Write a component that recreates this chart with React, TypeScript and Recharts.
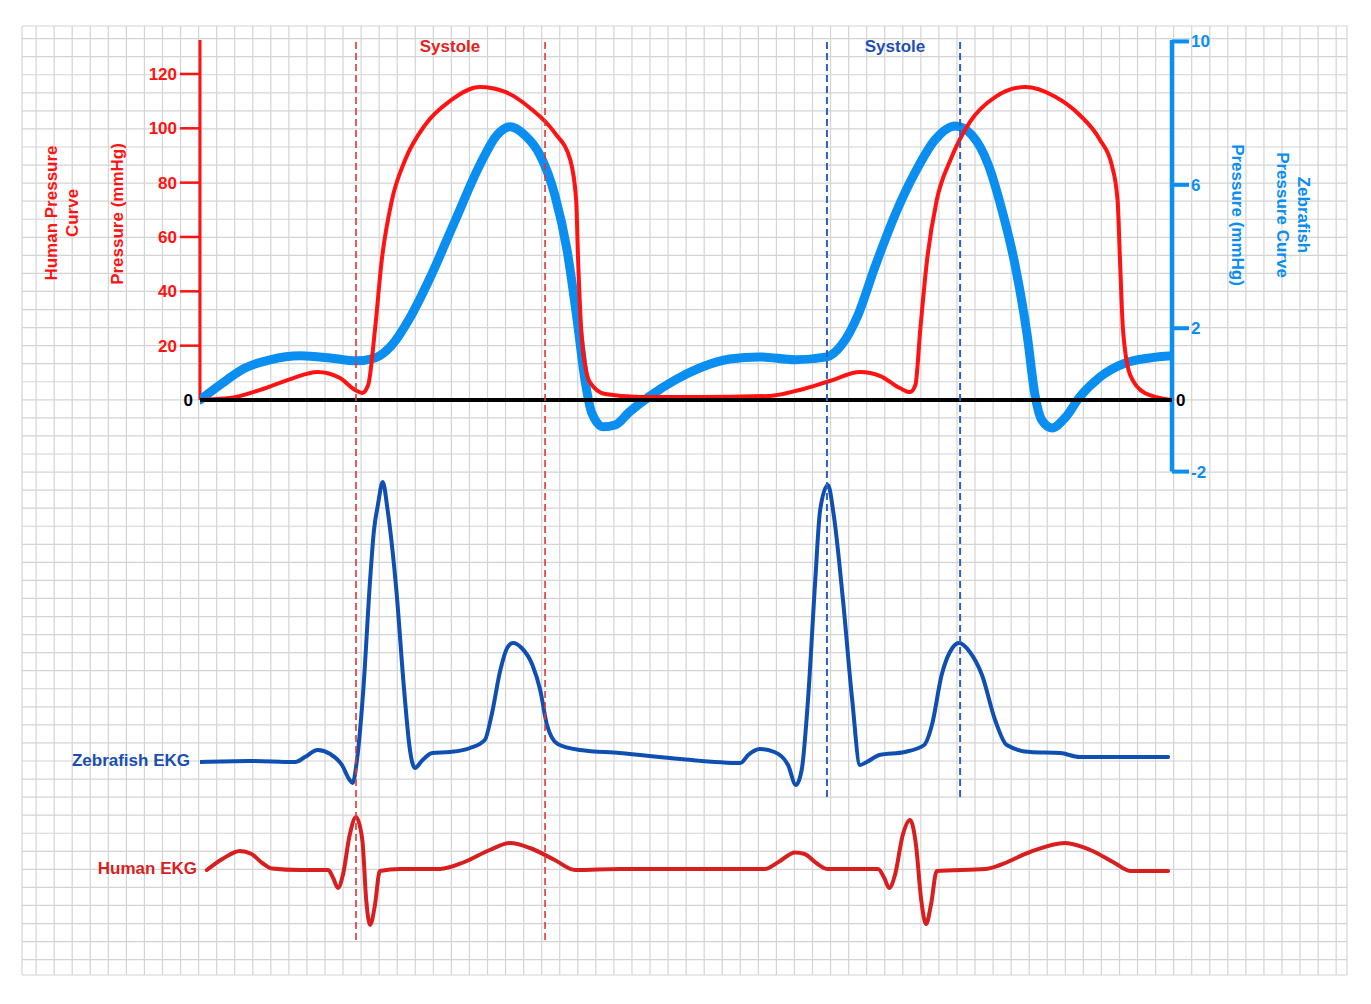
import React from "react";
import {
  ComposedChart,
  Line,
  XAxis,
  YAxis,
  CartesianGrid,
  ReferenceLine,
} from "recharts";

const W = 1371;
const H = 1004;
const FONT = '"Liberation Sans", Arial, sans-serif';

const RED = "#ff1212";
const HUMAN_EKG_RED = "#d81f1f";
const AZURE = "#0a8ef0";
const NAVY = "#0e4fb1";

// time runs 0..100 across the plot (two heart beats)
const humanPressureT = [
  0, 3.1, 6.2, 9.3, 12.1, 14.4, 15.95, 16.7, 17.3, 18.0, 18.7, 19.75, 21.1, 23.15,
  25.7, 28.8, 31.4, 33.95, 36.5, 38.1, 38.7, 38.9, 39.3, 40.1, 41.7, 45.3, 51.4,
  58.6, 61.7, 64.8, 67.9, 70.0, 72.0, 73.05, 73.6, 74.1, 74.8, 75.8, 77.2, 79.2,
  81.8, 84.9, 87.9, 90.5, 92.6, 93.8, 94.4, 94.65, 94.96, 95.7, 97.2, 100,
];
const humanPressureV = [
  0, 0.7, 3.7, 7.7, 10.3, 8.1, 3.7, 2.6, 5.5, 25.8, 51.5, 73.6, 88.3, 101.2,
  110, 115.2, 113.4, 107.5, 98.3, 88.3, 73.6, 51.5, 22, 6.6, 2.2, 1.1, 1.1,
  1.5, 3.7, 7.0, 10.3, 8.8, 4.4, 2.9, 5.5, 25.8, 51.5, 73.6, 88.3, 102.3,
  111.5, 115.2, 111.8, 104.9, 95.7, 86.5, 73.6, 51.5, 25.8, 9.2, 2.6, 0,
];

const zebrafishPressureT = [
  0, 2.06, 4.63, 7.2, 10.3, 13.4, 16.05, 18.0, 19.75, 21.6, 23.66, 26.2, 28.8,
  30.56, 31.9, 33.4, 34.98, 36.5, 37.76, 38.8, 39.6, 40.3, 41.5, 42.7, 44.2,
  46.3, 48.9, 51.4, 54.5, 57.6, 61.2, 64.5, 66.0, 67.7, 69.4, 71.5, 73.6, 75.6,
  77.7, 79.4, 81.1, 82.5, 83.85, 85.1, 85.9, 86.6, 87.65, 89.0, 90.5, 92.6,
  95.2, 97.7, 100,
];
const zebrafishPressureV = [
  0, 0.42, 0.89, 1.12, 1.23, 1.17, 1.09, 1.17, 1.53, 2.29, 3.4, 4.97, 6.56,
  7.39, 7.62, 7.39, 6.83, 5.72, 4.18, 2.23, 0.56, -0.36, -0.75, -0.7, -0.33,
  0.11, 0.56, 0.89, 1.14, 1.2, 1.12, 1.2, 1.53, 2.37, 3.68, 5.16, 6.36, 7.25,
  7.64, 7.39, 6.56, 5.3, 3.77, 1.81, 0.14, -0.56, -0.78, -0.5, 0.08, 0.64,
  1.03, 1.17, 1.23,
];

const zebrafishEkgT = [
  0, 5.1, 9.8, 10.8, 12.1, 13.4, 14.6, 15.4, 15.7, 16.15, 16.8, 17.5, 17.9, 18.3,
  18.8, 19.3, 20.2, 21.0, 21.6, 22.1, 22.9, 23.9, 25.7, 27.8, 29.3, 30.0, 30.9,
  31.6, 32.2, 33.1, 34.2, 35.0, 35.7, 36.8, 39.1, 43.2, 49.4, 55.6, 56.4, 57.6,
  59.1, 60.5, 61.3, 61.9, 62.55, 63.3, 63.8, 64.6, 65.2, 66.15, 67.1, 67.9,
  68.6, 69.9, 72.5, 74.5, 75.3, 76.3, 77.4, 78.1, 79.2, 80.45, 81.8, 83.0,
  85.4, 88.5, 90.5, 94.6, 99.6,
];
const zebrafishEkgV = [
  -0.02, -0.01, -0.02, 0.03, 0.1, 0.06, -0.05, -0.2, -0.23, 0, 0.7, 1.8, 2.3, 2.55,
  2.78, 2.5, 1.7, 0.7, 0.1, -0.08, 0, 0.07, 0.08, 0.12, 0.2, 0.45, 0.9,
  1.12, 1.17, 1.12, 0.95, 0.7, 0.35, 0.16, 0.1, 0.07, 0.01, -0.03, 0.05, 0.11,
  0.08, -0.05, -0.25, -0.1, 0.6, 1.8, 2.5, 2.75, 2.45, 1.6, 0.6, -0.05,
  -0.02, 0.05, 0.08, 0.15, 0.35, 0.85, 1.12, 1.17, 1.08, 0.85, 0.4, 0.15,
  0.08, 0.07, 0.03, 0.03, 0.03,
];

const humanEkgT = [
  0.7, 2.3, 4.1, 5.3, 6.4, 7.4, 10.3, 13.2, 13.7, 14.2, 14.7, 15.4, 16.05, 16.7, 17.1,
  17.5, 18.0, 18.5, 20.6, 24.7, 27.2, 29.8, 31.9, 33.95, 36.5, 38.6, 43.2, 51.4,
  58.1, 59.6, 61.2, 62.2, 63.4, 64.6, 69.75, 70.4, 70.9, 71.5, 72.3, 73.05, 73.66,
  74.2, 74.7, 75.2, 75.8, 80.8, 82.3, 85.4, 89.0, 91.6, 94.1, 95.7, 99.6,
];
const humanEkgV = [
  -0.02, 0.2, 0.36, 0.3, 0.12, 0.01, -0.02, -0.02, -0.18, -0.38, -0.12, 0.68, 1.04, 0.58, -0.62,
  -1.12, -0.72, -0.04, 0, 0, 0.14, 0.38, 0.52, 0.42, 0.18, -0.02, 0, 0,
  0, 0.15, 0.33, 0.3, 0.12, 0, 0, -0.18, -0.38, -0.12, 0.68, 0.98, 0.48,
  -0.62, -1.1, -0.72, -0.04, 0, 0.08, 0.34, 0.52, 0.38, 0.12, -0.04, -0.04,
];

const humanSystole = [16.05, 35.5];
const zebrafishSystole = [64.5, 78.2];

const leftTicks = [0, 20, 40, 60, 80, 100, 120];
const rightTicks = [-2, 0, 2, 6, 10];

// axis domains chosen so every axis shares one plot box
const LEFT_DOMAIN = [-212, 132.5];
const RIGHT_DOMAIN = [-16.07, 10.04];
const ZEKG_DOMAIN = [-2.16, 7.2];
const HEKG_DOMAIN = [-2.14, 16.58];

const zip = (t: number[], v: number[]) => t.map((x, i) => ({ t: x, v: v[i] }));

const humanPressure = zip(humanPressureT, humanPressureV);
const zebrafishPressure = zip(zebrafishPressureT, zebrafishPressureV);
const zebrafishEkg = zip(zebrafishEkgT, zebrafishEkgV);
const humanEkg = zip(humanEkgT, humanEkgV);

// background graph paper
const gridCols = Array.from({ length: 73 }, (_, i) => i);
const gridRows = Array.from({ length: 52 }, (_, i) => i - 31);

const LeftTick = (props: any) => {
  const { x, y, payload } = props;
  if (payload.value === 0) {
    return (
      <text x={x + 16} y={y} dy={6} textAnchor="end" fill="#000" fontSize={17} fontWeight="bold" fontFamily={FONT}>
        0
      </text>
    );
  }
  return (
    <g>
      <line x1={x + 3} x2={x + 23} y1={y} y2={y} stroke={RED} strokeWidth={2.5} />
      <text x={x} y={y} dy={6} textAnchor="end" fill={RED} fontSize={17} fontWeight="bold" fontFamily={FONT}>
        {payload.value}
      </text>
    </g>
  );
};

const RightTick = (props: any) => {
  const { x, y, payload } = props;
  if (payload.value === 0) {
    return (
      <text x={x - 15} y={y} dy={6} textAnchor="start" fill="#000" fontSize={17} fontWeight="bold" fontFamily={FONT}>
        0
      </text>
    );
  }
  return (
    <g>
      <line x1={x - 19} x2={x - 2} y1={y} y2={y} stroke={AZURE} strokeWidth={4} />
      <text x={x} y={y} dy={6} textAnchor="start" fill={AZURE} fontSize={17} fontWeight="bold" fontFamily={FONT}>
        {payload.value}
      </text>
    </g>
  );
};

const textBase: React.CSSProperties = {
  position: "absolute",
  fontFamily: FONT,
  fontWeight: 700,
  fontSize: 17,
  lineHeight: "21px",
  whiteSpace: "pre",
  textAlign: "center",
};

const Txt = ({ x, y, color, text, rotate = 0, anchor = "center" }: any) => {
  const tx = anchor === "end" ? "-100%" : "-50%";
  return (
    <div
      style={{
        ...textBase,
        left: x,
        top: y,
        color,
        transform: `translate(${tx}, -50%) rotate(${rotate}deg)`,
      }}
    >
      {text}
    </div>
  );
};

export default function App() {
  return (
    <div style={{ position: "absolute", left: 0, top: 0, width: W, height: H, background: "#fff" }}>
      <div style={{ position: "absolute", left: 0, top: 0 }}>
        <ComposedChart width={W} height={H} margin={{ top: 26, right: 24, bottom: 29, left: 22 }}>
          <XAxis type="number" dataKey="t" domain={[-0.78, 72.6]} ticks={gridCols} interval={0} hide allowDataOverflow />
          <YAxis type="number" domain={[-31.85, 20.7]} ticks={gridRows} interval={0} width={0} hide allowDataOverflow />
          <CartesianGrid stroke="#d4d4d4" strokeWidth={1.2} />
        </ComposedChart>
      </div>

      <div style={{ position: "absolute", left: 0, top: 0 }}>
        <ComposedChart width={W} height={H} margin={{ top: 40, right: 139, bottom: 28, left: 140 }}>
          <XAxis type="number" dataKey="t" domain={[0, 100]} hide allowDataOverflow />
          <YAxis
            yAxisId="left"
            orientation="left"
            type="number"
            domain={LEFT_DOMAIN}
            ticks={leftTicks}
            interval={0}
            width={60}
            axisLine={false}
            tickLine={false}
            tickSize={20}
            tickMargin={3}
            tick={LeftTick}
            allowDataOverflow
          />
          <YAxis
            yAxisId="right"
            orientation="right"
            type="number"
            domain={RIGHT_DOMAIN}
            ticks={rightTicks}
            interval={0}
            width={60}
            axisLine={false}
            tickLine={false}
            tickSize={17}
            tickMargin={2}
            tick={RightTick}
            allowDataOverflow
          />
          <YAxis yAxisId="zekg" type="number" domain={ZEKG_DOMAIN} width={0} hide allowDataOverflow />
          <YAxis yAxisId="hekg" type="number" domain={HEKG_DOMAIN} width={0} hide allowDataOverflow />

          <ReferenceLine
            yAxisId="left"
            segment={[{ x: 0, y: 0 }, { x: 0, y: LEFT_DOMAIN[1] }]}
            stroke={RED}
            strokeWidth={3}
            ifOverflow="visible"
          />
          <ReferenceLine
            yAxisId="right"
            segment={[{ x: 100, y: -2 }, { x: 100, y: RIGHT_DOMAIN[1] }]}
            stroke={AZURE}
            strokeWidth={4.5}
            ifOverflow="visible"
          />

          <Line
            yAxisId="right"
            data={zebrafishPressure}
            dataKey="v"
            type="monotone"
            stroke={AZURE}
            strokeWidth={9}
            strokeLinecap="round"
            dot={false}
            activeDot={false}
            isAnimationActive={false}
          />
          <Line
            yAxisId="left"
            data={humanPressure}
            dataKey="v"
            type="monotone"
            stroke={RED}
            strokeWidth={4}
            strokeLinecap="round"
            dot={false}
            activeDot={false}
            isAnimationActive={false}
          />
          <ReferenceLine yAxisId="left" y={0} stroke="#000" strokeWidth={4} ifOverflow="visible" />

          <Line
            yAxisId="zekg"
            data={zebrafishEkg}
            dataKey="v"
            type="monotone"
            stroke={NAVY}
            strokeWidth={4}
            strokeLinecap="round"
            dot={false}
            activeDot={false}
            isAnimationActive={false}
          />
          <Line
            yAxisId="hekg"
            data={humanEkg}
            dataKey="v"
            type="monotone"
            stroke={HUMAN_EKG_RED}
            strokeWidth={4}
            strokeLinecap="round"
            dot={false}
            activeDot={false}
            isAnimationActive={false}
          />

          {humanSystole.map((s) => (
            <ReferenceLine
              key={"h" + s}
              yAxisId="hekg"
              segment={[{ x: s, y: -1.42 }, { x: s, y: HEKG_DOMAIN[1] }]}
              stroke="#e03535"
              strokeWidth={1.6}
              strokeDasharray="7 4"
              ifOverflow="visible"
            />
          ))}
          {zebrafishSystole.map((s) => (
            <ReferenceLine
              key={"z" + s}
              yAxisId="zekg"
              segment={[{ x: s, y: -0.37 }, { x: s, y: ZEKG_DOMAIN[1] }]}
              stroke="#2d5fc4"
              strokeWidth={2}
              strokeDasharray="7 4"
              ifOverflow="visible"
            />
          ))}
        </ComposedChart>
      </div>

      <Txt x={450} y={46} color="#e52222" text="Systole" />
      <Txt x={895} y={46} color="#1f4fb3" text="Systole" />
      <Txt x={62} y={213} color={RED} rotate={-90} text={"Human Pressure\nCurve"} />
      <Txt x={117} y={214} color={RED} rotate={-90} text="Pressure (mmHg)" />
      <Txt x={1237} y={215} color={AZURE} rotate={90} text="Pressure (mmHg)" />
      <Txt x={1293} y={215} color={AZURE} rotate={90} text={"Zebrafish\nPressure Curve"} />
      <Txt x={190} y={760} color="#1a4fae" anchor="end" text="Zebrafish EKG" />
      <Txt x={197} y={868} color={HUMAN_EKG_RED} anchor="end" text="Human EKG" />
    </div>
  );
}
